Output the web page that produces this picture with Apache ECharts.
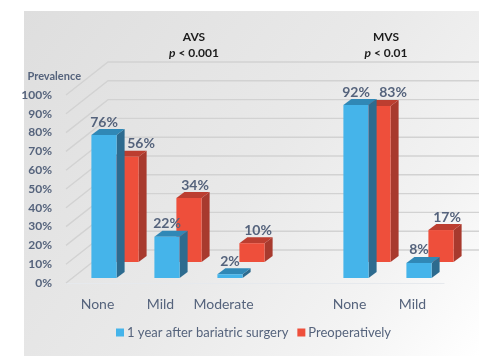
<!DOCTYPE html>
<html>
<head>
<meta charset="utf-8">
<style>html,body{margin:0;padding:0;background:#fff}#chart{width:479px;height:356px}</style>
<script src="https://cdn.jsdelivr.net/npm/echarts@6/dist/echarts.min.js"></script>
</head>
<body>
<div id="chart"></div>
<script>
// Prevalence by valve stenosis grade, before and after bariatric surgery
const categories = ['None', 'Mild', 'Moderate', '', 'None', 'Mild'];
const afterSurgery = [76, 22, 2, null, 92, 8];
const preoperative = [56, 34, 10, null, 83, 17];
const yTicks = [0, 10, 20, 30, 40, 50, 60, 70, 80, 90, 100];

const FONT = 'Lato, "Open Sans", sans-serif';
const TEXT = '#55637c';
const WALL = { dx: 42, dy: 33 };         // floor depth of the pseudo-3D box
const BAR = { dx: 8, dy: 6, band: 0.4 }; // extrusion of each column

// One extruded column: front, top and side faces plus its value label.
// labelDx returns the label's horizontal shift for a data index.
function column(rowDx, rowDy, faces, labelDx) {
  return function (params, api) {
    const v = api.value(1);
    const base = api.coord([api.value(0), 0]);
    const top = api.coord([api.value(0), v]);
    const w = api.size([1, 0])[0] * BAR.band;
    const x0 = base[0] + rowDx - w / 2;
    const x1 = x0 + w;
    const yb = base[1] - rowDy;
    const yt = top[1] - rowDy;
    return {
      type: 'group',
      children: [
        { type: 'polygon', shape: { points: [[x1, yt], [x1 + BAR.dx, yt - BAR.dy], [x1 + BAR.dx, yb - BAR.dy], [x1, yb]] }, style: { fill: faces.side } },
        { type: 'polygon', shape: { points: [[x0, yt], [x1, yt], [x1 + BAR.dx, yt - BAR.dy], [x0 + BAR.dx, yt - BAR.dy]] }, style: { fill: faces.top } },
        { type: 'rect', shape: { x: x0, y: yt, width: w, height: yb - yt }, style: { fill: faces.front } },
        { type: 'text', z2: 50, style: { x: (x0 + x1) / 2 + labelDx(api.value(0)), y: yt - 13, text: v + '%', textAlign: 'center', textVerticalAlign: 'middle', fill: TEXT, font: '700 14px ' + FONT } }
      ]
    };
  };
}

// Wall lines: diagonal across the floor side, then level along the back
function wallLine(params, api) {
  const y = api.coord([0, api.value(1)])[1];
  const c = params.coordSys;
  return {
    type: 'polyline',
    shape: { points: [[c.x, y], [c.x + WALL.dx, y - WALL.dy], [c.x + c.width + WALL.dx, y - WALL.dy]] },
    style: { stroke: '#d2d2d2', lineWidth: 1.4, fill: null }
  };
}

const toPairs = arr => arr.map((v, i) => [i, v]).filter(d => d[1] !== null);
const heading = (name, p) => '{b|' + name + '}\n{i|p}{b| < ' + p + '}';
const headingStyle = {
  rich: {
    b: { fontFamily: FONT, fontWeight: 700, fontSize: 12, color: '#1c1c1c', lineHeight: 16 },
    i: { fontFamily: FONT, fontWeight: 700, fontStyle: 'italic', fontSize: 12, color: '#1c1c1c', lineHeight: 16 }
  }
};

const chart = echarts.init(document.getElementById('chart'), null, { renderer: 'canvas' });
chart.setOption({
  animation: false,
  backgroundColor: '#ffffff',
  graphic: [{
    type: 'rect', z: -10, silent: true,
    shape: { x: 24, y: 11, width: 455, height: 345 },
    style: {
      fill: new echarts.graphic.LinearGradient(0, 0, 1, 1, [
        { offset: 0, color: '#dedede' },
        { offset: 0.5, color: '#e9e9e9' },
        { offset: 0.78, color: '#f3f3f3' },
        { offset: 1, color: '#ffffff' }
      ])
    }
  }],
  title: [
    { text: heading('AVS', '0.001'), left: 189, top: 24, textAlign: 'center', textStyle: headingStyle },
    { text: heading('MVS', '0.01'), left: 381, top: 24, textAlign: 'center', textStyle: headingStyle }
  ],
  grid: { left: 66, right: 35, top: 95, bottom: 73, containLabel: false },
  xAxis: {
    type: 'category',
    data: categories,
    axisLine: { lineStyle: { color: '#e6e9ed', width: 1.2 } },
    axisTick: { show: false },
    axisLabel: { color: TEXT, fontFamily: FONT, fontSize: 14, margin: 14, interval: 0 }
  },
  yAxis: {
    type: 'value',
    min: 0, max: 100, interval: 10,
    name: 'Prevalence',
    nameLocation: 'end',
    nameGap: 13,
    nameTextStyle: { color: TEXT, fontFamily: FONT, fontWeight: 700, fontSize: 11, align: 'right', padding: [0, -15, 0, 0] },
    axisLine: { show: false },
    axisTick: { show: false },
    splitLine: { show: false },
    axisLabel: { color: TEXT, fontFamily: FONT, fontWeight: 700, fontSize: 12, margin: 14, formatter: '{value}%' }
  },
  legend: {
    data: ['1 year after bariatric surgery', 'Preoperatively'],
    bottom: 12, left: 111,
    icon: 'rect', itemWidth: 8, itemHeight: 8, itemGap: 9,
    textStyle: { color: TEXT, fontFamily: FONT, fontSize: 13, padding: [0, 0, 0, -2] }
  },
  series: [
    {
      name: 'walls', type: 'custom', silent: true, z: 1, clip: false,
      data: yTicks.map(v => [0, v]), renderItem: wallLine
    },
    {
      name: 'Preoperatively', type: 'custom', z: 2, clip: false,
      itemStyle: { color: '#ee4f3b' },
      data: toPairs(preoperative),
      renderItem: column(28.5, 21, { front: '#ee4f3b', top: '#bc3e30', side: '#a83a2e' },
        // clear the neighbouring label when the blue column stands taller
        i => (afterSurgery[i] > preoperative[i] ? 15 : 6))
    },
    {
      name: '1 year after bariatric surgery', type: 'custom', z: 3, clip: false,
      itemStyle: { color: '#45b4ea' },
      data: toPairs(afterSurgery),
      renderItem: column(6.5, 5, { front: '#45b4ea', top: '#3088b6', side: '#2d6b8f' }, () => 0)
    }
  ]
});
</script>
</body>
</html>
